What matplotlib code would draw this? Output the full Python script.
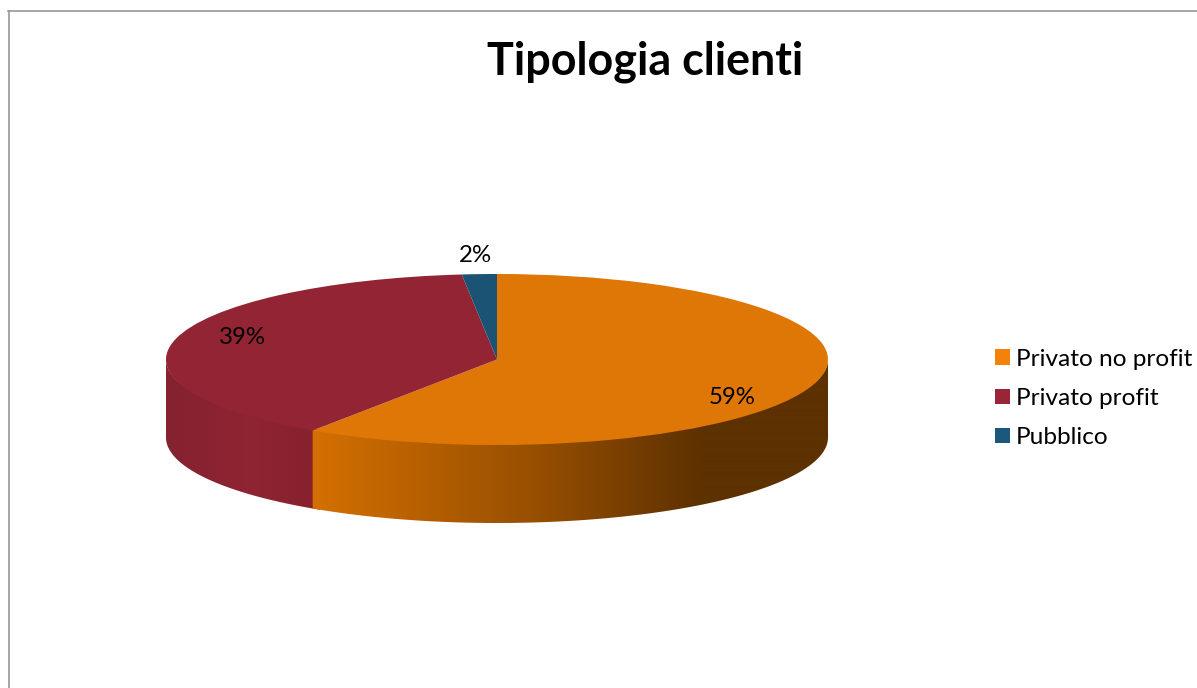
import numpy as np
import matplotlib
matplotlib.use("Agg")
import matplotlib.pyplot as plt
from matplotlib.patches import Patch, Polygon
from matplotlib.lines import Line2D

categories = ["Privato no profit", "Privato profit", "Pubblico"]
shares = [59.4, 38.9, 1.7]
title = "Tipologia clienti"

W, H = 1197, 688
CX, CY, RX, RY = 497, 359.5, 331, 85.5
DEPTH = 78 / RY
top_colors = ["#DF7707", "#922434", "#1A5373"]
legend_colors = ["#F3820A", "#9B2538", "#1B587C"]

plt.rcParams["font.family"] = ["Lato", "DejaVu Sans"]
fig = plt.figure(figsize=(W / 100, H / 100), dpi=100, facecolor="white")
ax = fig.add_axes([0, 0, 1, 1])


def px(x, y):
    """Figure pixel to pie data coordinates."""
    return (x - CX) / RX, (CY - y) / RY


def wall(a0, a1):
    a = np.radians(np.linspace(a0, a1, 200))
    x, y = np.sin(a), np.cos(a)
    return np.r_[np.c_[x, y * 0.97], np.c_[x, y - DEPTH][::-1]]


def gradient_wall(a0, a1, stops, z):
    poly = Polygon(wall(a0, a1), closed=True, fc="none", ec="none", transform=ax.transData)
    ax.add_patch(poly)
    xs = np.arange(166, 829)
    pos = [s[0] for s in stops]
    cols = np.array([s[1] for s in stops], float) / 255
    rgb = np.stack([np.interp(xs, pos, cols[:, i]) for i in range(3)], axis=-1)[None, :, :]
    x0, _ = px(166, 0)
    x1, _ = px(829, 0)
    im = ax.imshow(rgb, extent=(x0, x1, -1 - DEPTH - 0.05, 1), aspect="auto", zorder=z,
                   interpolation="bilinear")
    im.set_clip_path(poly)


edges = np.cumsum([0] + shares) / sum(shares) * 360
gradient_wall(edges[1] - 1.5, 270, [(166, (133, 34, 48)), (250, (143, 36, 50)), (312, (135, 33, 46)), (340, (135, 33, 46))], 1)
gradient_wall(90, edges[1], [(312, (212, 112, 0)), (540, (150, 78, 0)), (700, (93, 49, 0)), (829, (93, 49, 0))], 1.5)

wedges, _ = ax.pie(shares, colors=top_colors, startangle=90, counterclock=False, radius=1,
                   wedgeprops=dict(linewidth=0))
for w in wedges:
    w.set_zorder(2)

ax.set_aspect("auto")
ax.set_xlim(px(0, 0)[0], px(W, 0)[0])
ax.set_ylim(px(0, H)[1], px(0, 0)[1])
ax.axis("off")

label_px = [(732, 397), (242, 338), (475, 256)]
for s, (lx, ly) in zip(shares, label_px):
    dx, dy = px(lx, ly)
    ax.text(dx, dy, f"{s:.0f}%", ha="center", va="center", fontsize=17.3, color="black", zorder=3)

fig.text(645.5 / W, 1 - 62 / H, title, ha="center", va="center", fontsize=32.3, fontweight="bold", color="black")

handles = [Patch(fc=c, ec="none") for c in legend_colors]
fig.legend(handles, categories, loc="center left", bbox_to_anchor=(995 / W, 1 - 398.5 / H), frameon=False,
           fontsize=17.6, handlelength=0.61, handleheight=0.61, handletextpad=0.24, labelspacing=0.74,
           borderpad=0, borderaxespad=0)

border = "#979797"
fig.add_artist(Line2D([8.5 / W, 8.5 / W], [0, 1 - 10.5 / H], color=border, lw=1.2, transform=fig.transFigure))
fig.add_artist(Line2D([8 / W, 1], [1 - 10.5 / H, 1 - 10.5 / H], color=border, lw=1.2, transform=fig.transFigure))

fig.savefig("out.png", dpi=100, facecolor="white")
